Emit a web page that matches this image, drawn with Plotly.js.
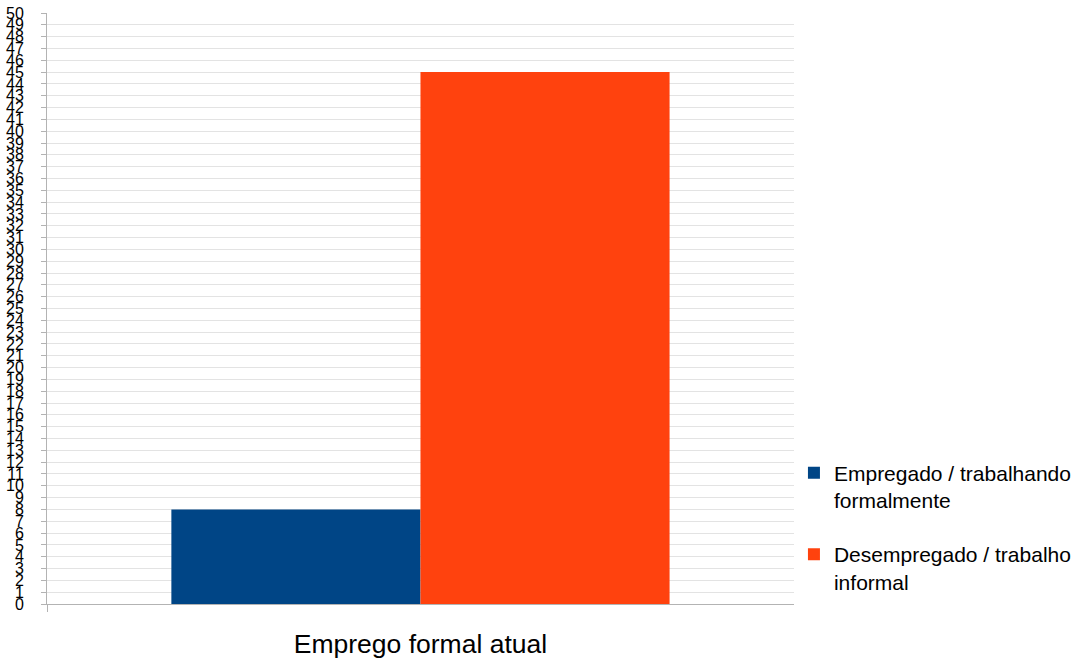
<!DOCTYPE html>
<html>
<head>
<meta charset="utf-8">
<script src="https://cdn.plot.ly/plotly-3.0.1.min.js"></script>
<style>
  html, body { margin: 0; padding: 0; background: #ffffff; }
  #chart { width: 1083px; height: 662px; }
</style>
</head>
<body>
<div id="chart"></div>
<script>
// Single category, two series
const categories = ["Emprego formal atual"];
const seriesNames = ["Empregado / trabalhando<br>formalmente", "Desempregado / trabalho<br>informal"];
const seriesValues = [[8], [45]];
const seriesColors = ["#004586", "#ff420e"];

// y tick labels 0..50, one per unit
const yTickValues = [];
for (let v = 0; v <= 50; v++) yTickValues.push(v);

const font = "Liberation Sans, Arial, sans-serif";

const traces = seriesNames.map((name, i) => ({
  type: "bar",
  name: name,
  x: categories,
  y: seriesValues[i],
  marker: { color: seriesColors[i], line: { width: 0 } },
  legendgroup: "g" + i,
  hoverinfo: "none"
}));

const layout = {
  width: 1083,
  height: 662,
  margin: { l: 47, r: 288, t: 13, b: 58 },
  paper_bgcolor: "#ffffff",
  plot_bgcolor: "#ffffff",
  barmode: "group",
  bargap: 0.333,
  bargroupgap: 0,
  font: { family: font, color: "#000000" },
  xaxis: {
    type: "category",
    range: [-0.5, 0.5],
    tickson: "boundaries",
    ticks: "outside",
    ticklen: 7,
    tickcolor: "#b3b3b3",
    showgrid: true,
    gridcolor: "#dddddd",
    showline: true,
    linecolor: "#b3b3b3",
    linewidth: 1,
    tickfont: { family: font, size: 26.5, color: "#000000" },
    ticklabelstandoff: 16,
    automargin: false,
    fixedrange: true
  },
  yaxis: {
    range: [0, 50],
    tickmode: "array",
    tickvals: yTickValues,
    ticktext: yTickValues.map(String),
    ticks: "outside",
    ticklen: 5,
    tickcolor: "#b3b3b3",
    showgrid: true,
    gridcolor: "#e3e3e3",
    gridwidth: 1,
    zeroline: false,
    showline: true,
    linecolor: "#b3b3b3",
    linewidth: 1,
    tickfont: { family: font, size: 16, color: "#000000" },
    ticklabelstandoff: 14,
    automargin: false,
    fixedrange: true
  },
  showlegend: true,
  legend: {
    xref: "container",
    yref: "container",
    x: 0.7331,
    xanchor: "left",
    y: 0.3165,
    yanchor: "top",
    valign: "top",
    tracegroupgap: 24,
    font: { family: font, size: 21, color: "#000000" },
    bgcolor: "rgba(0,0,0,0)",
    itemclick: false,
    itemdoubleclick: false
  }
};

Plotly.newPlot("chart", traces, layout, { staticPlot: true, displayModeBar: false });
</script>
</body>
</html>
